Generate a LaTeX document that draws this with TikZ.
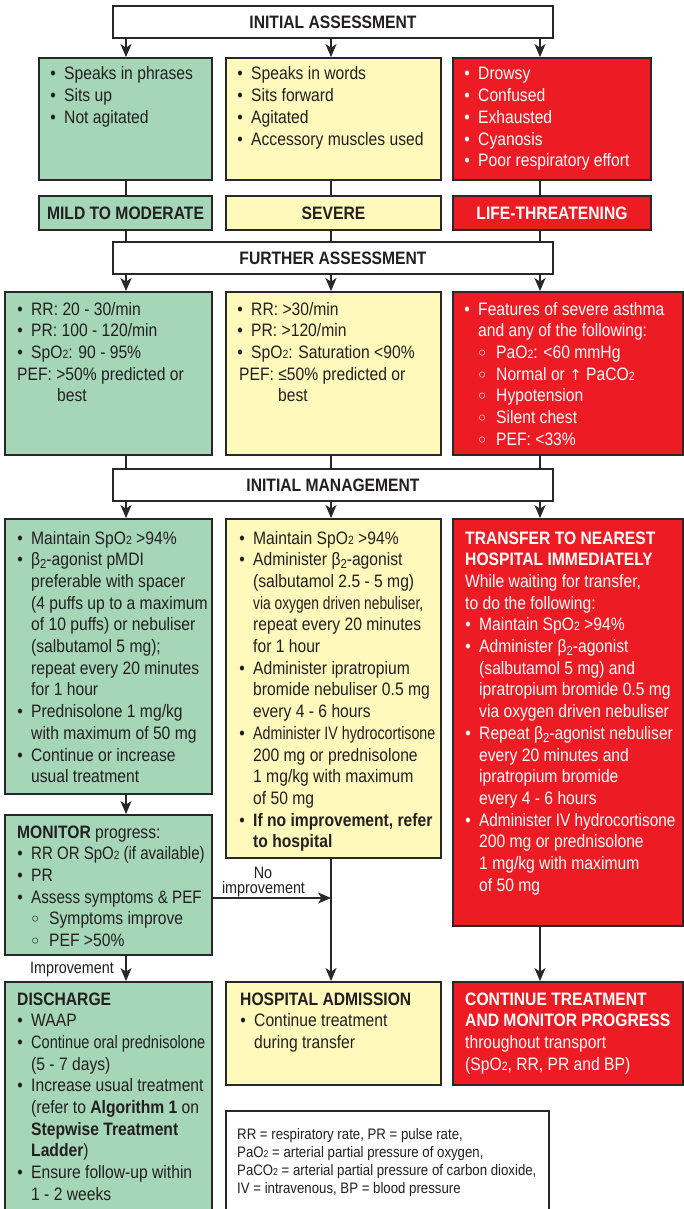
\documentclass[tikz,border=0pt]{standalone}
\usepackage{fontspec}
\setmainfont{Liberation Sans}[FakeStretch=0.87]
\newfontfamily\symfont{DejaVu Sans}
\usepackage{graphicx}
\usetikzlibrary{arrows.meta}
\definecolor{gfill}{RGB}{165,214,184}
\definecolor{yfill}{RGB}{255,249,187}
\definecolor{rfill}{RGB}{237,28,36}
\definecolor{ink}{RGB}{35,31,32}
\definecolor{edge}{RGB}{40,40,40}
\newcommand\bul{\makebox[6pt][c]{•}\hspace*{8pt}}
\newcommand\ind{\hspace*{14pt}}
\newcommand\sbul{\hspace*{15pt}\makebox[6pt][c]{\raisebox{-2pt}{\symfont\fontsize{20}{20}\selectfont ◦}}\hspace*{11pt}}
\newcommand\subtwo{{\fontsize{12}{12}\selectfont 2}}
\newcommand\subtwoS{{\fontsize{10}{10}\selectfont 2}}
\newcommand\bt{β\raisebox{-3pt}{\fontsize{13}{13}\selectfont 2}}
\newcommand\uparr{{\symfont\fontsize{15}{15}\selectfont ↑}}
\newcommand\sq[2]{\scalebox{#1}[1]{#2}}
\tikzset{
  box/.style={draw=edge, line width=1.8pt, inner sep=0pt},
  sz/.style 2 args={minimum width=#1pt, minimum height=#2pt},
  gb/.style={box, fill=gfill},
  yb/.style={box, fill=yfill},
  rb/.style={box, fill=rfill},
  wb/.style={box, fill=white},
  hdr/.style={font=\fontsize{18}{21.7}\selectfont\bfseries, text=ink},
  hdrw/.style={hdr, text=white},
  txt/.style={anchor=base west, inner sep=0pt, font=\fontsize{18}{21.7}\selectfont, text=ink},
  wtxt/.style={txt, text=white},
  legtxt/.style={anchor=base west, inner sep=0pt, font=\fontsize{15.2}{18.3}\selectfont, text=ink},
  arr/.style={draw=edge, line width=1.6pt, -{Stealth[length=13pt,width=11pt,inset=3.5pt]}},
  ln/.style={draw=edge, line width=1.6pt},
  lbl/.style={font=\fontsize{16.5}{13}\selectfont, text=ink, inner sep=0pt},
}
\begin{document}
\begin{tikzpicture}[x=1pt,y=-1pt]
\useasboundingbox (0,0) rectangle (684,1209);
\clip (0,0) rectangle (684,1209);
\fill[white] (0,0) rectangle (684,1209);
\coordinate (colA) at (126,0);
\coordinate (colB) at (331,0);
\coordinate (colC) at (540,0);
% headers
\node[wb, hdr, sz={440}{32}] (ia) at (333,22) {INITIAL ASSESSMENT};
\node[wb, hdr, sz={440}{32}] (fa) at (333,258) {FURTHER ASSESSMENT};
\node[wb, hdr, sz={440}{32}] (im) at (333,485) {INITIAL MANAGEMENT};
% row 1
\node[gb, sz={173}{122}] (g1) at (125.5,119) {};
\node[yb, sz={215}{122}] (y1) at (333.5,119) {};
\node[rb, sz={198}{122}] (r1) at (552,119) {};
\node[txt] (g1t) at (50,80) {\parbox[t]{220pt}{\bul Speaks in phrases\\ \bul Sits up\\ \bul Not agitated}};
\node[txt] (y1t) at (237,80) {\parbox[t]{220pt}{\bul Speaks in words\\ \bul Sits forward\\ \bul Agitated\\ \bul Accessory muscles used}};
\node[wtxt] (r1t) at (464,80) {\parbox[t]{220pt}{\bul Drowsy\\ \bul Confused\\ \bul Exhausted\\ \bul Cyanosis\\ \bul Poor respiratory effort}};
% row 2
\node[gb, hdr, sz={173}{34}] (g2) at (125.5,213) {MILD TO MODERATE};
\node[yb, hdr, sz={215}{34}] (y2) at (333.5,213) {SEVERE};
\node[rb, hdrw, sz={198}{34}] (r2) at (552,213) {LIFE-THREATENING};
% row 3
\node[gb, sz={207}{163}] (g3) at (108.5,373.5) {};
\node[yb, sz={215}{163}] (y3) at (333.5,373.5) {};
\node[rb, sz={230}{163}] (r3) at (568,373.5) {};
\node[txt] (g3t) at (17,315) {\parbox[t]{220pt}{\bul RR: 20 - 30/min\\ \bul PR: 100 - 120/min\\ \bul SpO\subtwo: 90 - 95\%\\ PEF: >50\% predicted or\\ \hspace*{40pt}best}};
\node[txt] (y3t) at (237,315) {\parbox[t]{220pt}{\bul RR: >30/min\\ \bul PR: >120/min\\ \bul SpO\subtwo: Saturation <90\%\\ \hspace*{2pt}PEF: ≤50\% predicted or\\ \hspace*{41pt}best}};
\node[wtxt] (r3t) at (464,315) {\parbox[t]{240pt}{\bul Features of severe asthma\\ \ind and any of the following:\\ \sbul PaO\subtwo: <60 mmHg\\ \sbul Normal or \uparr{} PaCO\subtwo\\ \sbul Hypotension\\ \sbul Silent chest\\ \sbul PEF: <33\%}};
% row 4
\node[gb, sz={207}{275}] (g4) at (108.5,656.5) {};
\node[yb, sz={215}{339}] (y4) at (333.5,688.5) {};
\node[rb, sz={230}{407}] (r4) at (568,722.5) {};
\node[txt] (g4t) at (17,544) {\parbox[t]{240pt}{\bul Maintain SpO\subtwo{} >94\%\\
\bul \bt-agonist pMDI\\
\ind preferable with spacer\\
\ind (4 puffs up to a maximum\\
\ind of 10 puffs) or nebuliser\\
\ind (salbutamol 5 mg);\\
\ind repeat every 20 minutes\\
\ind for 1 hour\\
\bul Prednisolone 1 mg/kg\\
\ind with maximum of 50 mg\\
\bul Continue or increase\\
\ind usual treatment}};
\node[txt] (y4t) at (239,544) {\parbox[t]{240pt}{\bul Maintain SpO\subtwo{} >94\%\\
\bul Administer \bt-agonist\\
\ind (salbutamol 2.5 - 5 mg)\\
\ind \sq{0.88}{via oxygen driven nebuliser,}\\
\ind repeat every 20 minutes\\
\ind for 1 hour\\
\bul Administer ipratropium\\
\ind bromide nebuliser 0.5 mg\\
\ind every 4 - 6 hours\\
\bul \sq{0.91}{Administer IV hydrocortisone}\\
\ind 200 mg or prednisolone\\
\ind 1 mg/kg with maximum\\
\ind of 50 mg\\
\bul \textbf{If no improvement, refer}\\
\ind \textbf{to hospital}}};
\node[wtxt] (r4t) at (465,544) {\parbox[t]{240pt}{\textbf{TRANSFER TO NEAREST}\\
\textbf{HOSPITAL IMMEDIATELY}\\
While waiting for transfer,\\
to do the following:\\
\bul Maintain SpO\subtwo{} >94\%\\
\bul Administer \bt-agonist\\
\ind (salbutamol 5 mg) and\\
\ind ipratropium bromide 0.5 mg\\
\ind via oxygen driven nebuliser\\
\bul Repeat \bt-agonist nebuliser\\
\ind every 20 minutes and\\
\ind ipratropium bromide\\
\ind every 4 - 6 hours\\
\bul \sq{0.98}{Administer IV hydrocortisone}\\
\ind 200 mg or prednisolone\\
\ind 1 mg/kg with maximum\\
\ind of 50 mg}};
% monitor
\node[gb, sz={207}{140}] (mon) at (108.5,885) {};
\node[txt] (mont) at (17,838) {\parbox[t]{240pt}{\textbf{MONITOR} progress:\\
\bul \sq{0.96}{RR OR SpO\subtwo{} (if available)}\\
\bul PR\\
\bul \sq{0.97}{Assess symptoms \& PEF}\\
\sbul Symptoms improve\\
\sbul PEF >50\%}};
% bottom row
\node[gb, sz={207}{243}] (dis) at (108.5,1103.5) {};
\node[yb, sz={215}{103}] (ha) at (333.5,1033.5) {};
\node[rb, sz={230}{103}] (ct) at (568,1033.5) {};
\node[wb, sz={323}{114}] (leg) at (387.5,1168) {};
\node[txt] (dist) at (17,1005) {\parbox[t]{240pt}{\textbf{DISCHARGE}\\
\bul WAAP\\
\bul \sq{0.93}{Continue oral prednisolone}\\
\ind (5 - 7 days)\\
\bul Increase usual treatment\\
\ind (refer to \textbf{Algorithm 1} on\\
\ind \textbf{Stepwise Treatment}\\
\ind \textbf{Ladder})\\
\bul Ensure follow-up within\\
\ind 1 - 2 weeks}};
\node[txt] (hat) at (240,1005) {\parbox[t]{240pt}{\textbf{HOSPITAL ADMISSION}\\ \bul Continue treatment\\ \ind during transfer}};
\node[wtxt] (ctt) at (465,1005) {\parbox[t]{240pt}{\textbf{CONTINUE TREATMENT}\\ \textbf{AND MONITOR PROGRESS}\\ throughout transport\\ (SpO\subtwo, RR, PR and BP)}};
\node[legtxt] (legt) at (237,1139) {\parbox[t]{320pt}{RR = respiratory rate, PR = pulse rate,\\
PaO\subtwoS{} = arterial partial pressure of oxygen,\\
PaCO\subtwoS{} = arterial partial pressure of carbon dioxide,\\
IV = intravenous, BP = blood pressure}};
% connectors
\draw[arr] (colA |- ia.south) -- (colA |- g1.north);
\draw[arr] (colB |- ia.south) -- (colB |- y1.north);
\draw[arr] (colC |- ia.south) -- (colC |- r1.north);
\draw[ln] (colA |- g1.south) -- (colA |- g2.north);
\draw[ln] (colB |- y1.south) -- (colB |- y2.north);
\draw[ln] (colC |- r1.south) -- (colC |- r2.north);
\draw[ln] (colA |- g2.south) -- (colA |- fa.north);
\draw[ln] (colB |- y2.south) -- (colB |- fa.north);
\draw[ln] (colC |- r2.south) -- (colC |- fa.north);
\draw[arr] (colA |- fa.south) -- (colA |- g3.north);
\draw[arr] (colB |- fa.south) -- (colB |- y3.north);
\draw[arr] (colC |- fa.south) -- (colC |- r3.north);
\draw[ln] (colA |- g3.south) -- (colA |- im.north);
\draw[ln] (colB |- y3.south) -- (colB |- im.north);
\draw[ln] (colC |- r3.south) -- (colC |- im.north);
\draw[arr] (colA |- im.south) -- (colA |- g4.north);
\draw[arr] (colB |- im.south) -- (colB |- y4.north);
\draw[arr] (colC |- im.south) -- (colC |- r4.north);
\draw[arr] (colA |- g4.south) -- (colA |- mon.north);
\draw[arr] (colA |- mon.south) -- (colA |- dis.north);
\coordinate (nojoin) at (331,898);
\draw[arr] (mon.east |- nojoin) -- (nojoin);
\draw[arr] (colB |- y4.south) -- (colB |- ha.north);
\draw[arr] (colC |- r4.south) -- (colC |- ct.north);
\node[lbl, anchor=base] (nolbl) at (263,878) {No};
\node[lbl, anchor=base] (noimplbl) at (263.5,893.5) {improvement};
\node[lbl] (implbl) at (72,969.5) {Improvement};
\end{tikzpicture}
\end{document}
